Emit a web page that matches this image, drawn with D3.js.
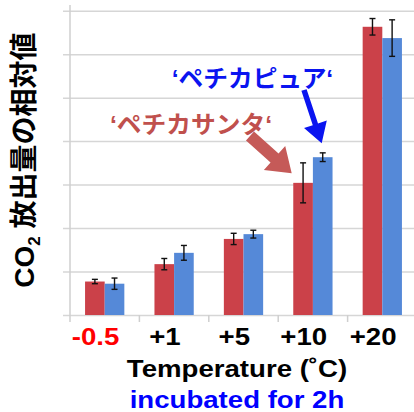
<!DOCTYPE html>
<html>
<head>
<meta charset="utf-8">
<script src="https://cdn.jsdelivr.net/npm/d3@7"></script>
<style>
  body { margin: 0; background: #fff; }
  svg { display: block; }
  .lat { font-family: "Liberation Sans", Arial, "Noto Sans CJK JP", sans-serif; font-weight: bold; }
</style>
</head>
<body>
<div id="chart-area"></div>
<script>
const categories = ['-0.5', '+1', '+5', '+10', '+20'];
const seriesNames = ['ペチカサンタ', 'ペチカピュア'];
const santa = [0.77, 1.17, 1.75, 3.04, 6.63];
const santaErr = [0.05, 0.13, 0.13, 0.46, 0.19];
const pure = [0.72, 1.43, 1.86, 3.63, 6.37];
const pureErr = [0.13, 0.17, 0.09, 0.10, 0.42];
const yTicks = [0, 1, 2, 3, 4, 5, 6, 7];

const chartSize = { width: 414, height: 412 };
const plot = { left: 70, right: 417, top: 10.7, bottom: 315 };
const colors = { santa: '#CB4149', pure: '#5589D8', santaText: '#C0504D', pureText: '#0A14F0' };
const stretch = 1.15;

const svg = d3.select('#chart-area').append('svg')
  .attr('width', chartSize.width)
  .attr('height', chartSize.height);

const x = d3.scaleBand()
  .domain(categories)
  .range([plot.left, plot.right]);

const xInner = d3.scaleBand()
  .domain(seriesNames)
  .range([x.bandwidth() * 0.217, x.bandwidth() * 0.783]);

const y = d3.scaleLinear()
  .domain([0, 7])
  .range([plot.bottom, plot.top]);

// gridlines
svg.append('g')
  .attr('class', 'grid')
  .attr('transform', `translate(${plot.left - 7},0)`)
  .call(d3.axisLeft(y).tickValues(yTicks).tickSize(-(chartSize.width - plot.left + 7)).tickFormat(''))
  .call(g => g.select('.domain').remove())
  .call(g => g.selectAll('line').attr('stroke', '#D6D6D6').attr('stroke-width', 1.5));

// y axis line
svg.append('line')
  .attr('x1', plot.left).attr('x2', plot.left)
  .attr('y1', 5).attr('y2', plot.bottom + 7)
  .attr('stroke', '#CFCFCF').attr('stroke-width', 1.5);

// x boundary ticks
svg.append('g').selectAll('line')
  .data(categories.slice(1))
  .join('line')
  .attr('x1', d => x(d)).attr('x2', d => x(d))
  .attr('y1', plot.bottom).attr('y2', plot.bottom + 7)
  .attr('stroke', '#CFCFCF').attr('stroke-width', 1.5);

const rows = categories.map((c, i) => ({
  cat: c,
  vals: [
    { name: seriesNames[0], v: santa[i], e: santaErr[i], fill: colors.santa },
    { name: seriesNames[1], v: pure[i], e: pureErr[i], fill: colors.pure }
  ]
}));

const groups = svg.append('g').selectAll('g')
  .data(rows)
  .join('g')
  .attr('transform', d => `translate(${x(d.cat)},0)`);

groups.selectAll('rect')
  .data(d => d.vals)
  .join('rect')
  .attr('x', d => xInner(d.name))
  .attr('width', xInner.bandwidth())
  .attr('y', d => y(d.v))
  .attr('height', d => y(0) - y(d.v))
  .attr('fill', d => d.fill);

const err = groups.selectAll('g.err')
  .data(d => d.vals)
  .join('g')
  .attr('class', 'err')
  .attr('transform', d => `translate(${xInner(d.name) + xInner.bandwidth() / 2},0)`)
  .attr('stroke', '#111').attr('stroke-width', 1.4);
err.append('line').attr('y1', d => y(d.v + d.e)).attr('y2', d => y(d.v - d.e));
err.append('line').attr('x1', -3).attr('x2', 3).attr('y1', d => y(d.v + d.e)).attr('y2', d => y(d.v + d.e));
err.append('line').attr('x1', -3).attr('x2', 3).attr('y1', d => y(d.v - d.e)).attr('y2', d => y(d.v - d.e));

// x axis labels
svg.append('g')
  .attr('transform', `translate(0,${plot.bottom})`)
  .call(d3.axisBottom(x).tickSize(0))
  .call(g => g.select('.domain').remove())
  .call(g => g.selectAll('text')
    .attr('class', 'lat')
    .attr('y', 30).attr('dy', 0).attr('x', -8)
    .attr('transform', `scale(${stretch},1)`)
    .attr('font-size', 24)
    .attr('fill', d => d === '-0.5' ? '#FF0000' : '#000'));

svg.append('text')
  .attr('class', 'lat')
  .attr('text-anchor', 'middle')
  .attr('font-size', 24)
  .attr('transform', `translate(237,377) scale(${stretch},1)`)
  .text('Temperature (˚C)');

svg.append('text')
  .attr('class', 'lat')
  .attr('text-anchor', 'middle')
  .attr('font-size', 24)
  .attr('fill', '#0000FF')
  .attr('transform', `translate(237,408) scale(${stretch},1)`)
  .text('incubated for 2h');

// y label
const yl = svg.append('text')
  .attr('class', 'lat')
  .attr('text-anchor', 'middle')
  .attr('font-size', 28)
  .attr('font-weight', 900)
  .attr('transform', 'translate(34,160) rotate(-90)');
yl.append('tspan').text('CO');
yl.append('tspan').attr('font-size', 17).attr('dy', 6).text('2');
yl.append('tspan').attr('dy', -6).text(' 放出量の相対値');

// annotations
const arrow = (x1, y1, x2, y2, sw, hl, hw) => {
  const a = Math.atan2(y2 - y1, x2 - x1);
  const len = Math.hypot(x2 - x1, y2 - y1);
  const pts = [[0, -sw / 2], [len - hl, -sw / 2], [len - hl, -hw / 2], [len, 0], [len - hl, hw / 2], [len - hl, sw / 2], [0, sw / 2]];
  return pts.map(([u, v]) => [x1 + u * Math.cos(a) - v * Math.sin(a), y1 + u * Math.sin(a) + v * Math.cos(a)].join(',')).join(' ');
};

svg.append('polygon')
  .attr('points', arrow(304, 90, 321.7, 143.3, 5.5, 20, 24))
  .attr('fill', '#0A14F0');
svg.append('polygon')
  .attr('points', arrow(250, 136, 291.7, 173.3, 12, 23, 32))
  .attr('fill', '#C55A58');

svg.append('text')
  .attr('class', 'lat')
  .attr('font-size', 24)
  .attr('font-weight', 900)
  .attr('fill', colors.pureText)
  .attr('transform', 'translate(171.7,87) scale(1.03,1)')
  .text('‘' + seriesNames[1] + '‘');

svg.append('text')
  .attr('class', 'lat')
  .attr('font-size', 24)
  .attr('font-weight', 900)
  .attr('fill', colors.santaText)
  .attr('transform', 'translate(110,133) scale(1.03,1)')
  .text('‘' + seriesNames[0] + '‘');
</script>
</body>
</html>
